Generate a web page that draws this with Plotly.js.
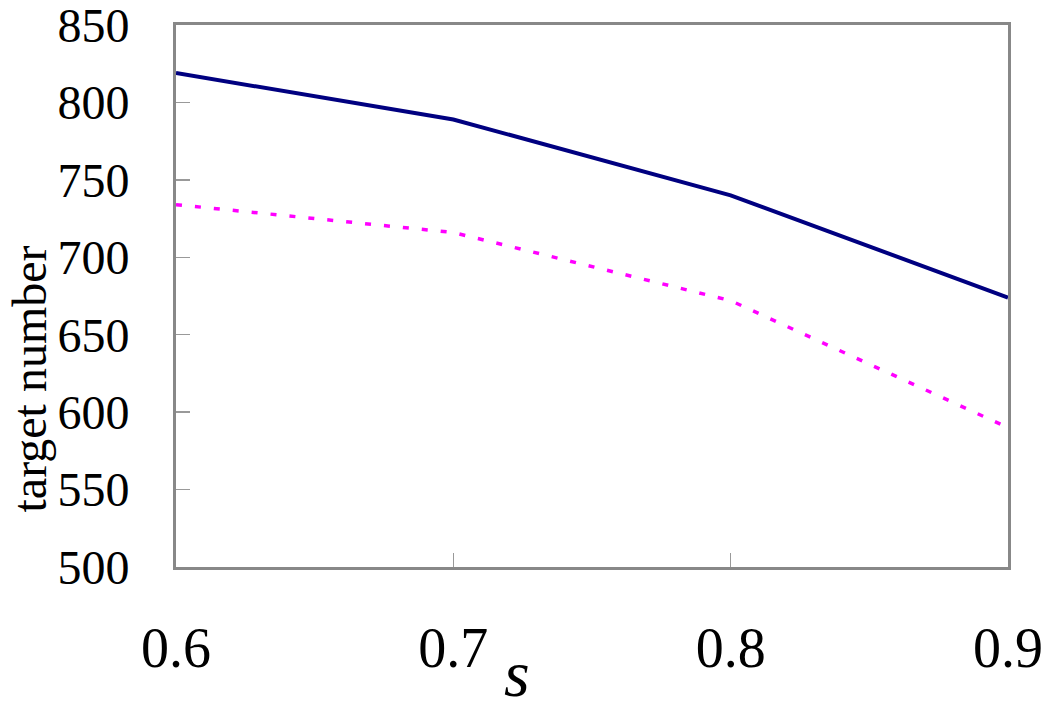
<!DOCTYPE html>
<html>
<head>
<meta charset="utf-8">
<script src="https://cdn.plot.ly/plotly-3.0.1.min.js"></script>
<style>
  html, body { margin: 0; padding: 0; background: #fff; }
  #chart { width: 1050px; height: 709px; }
</style>
</head>
<body>
<div id="chart"></div>
<script>
// ─────────────────────────────
// DATOS
// ─────────────────────────────
const sValores = [0.6, 0.7, 0.8, 0.9];
const serieSolida = [819, 789, 740, 674];
const serieDiscontinua = [734, 716, 672, 590];
const ticksX = ['0.6', '0.7', '0.8', '0.9'];
const ticksY = [500, 550, 600, 650, 700, 750, 800, 850];

const FUENTE = 'Liberation Serif, Times New Roman, serif';

// ─────────────────────────────
// TRAZAS
// ─────────────────────────────
const trazas = [
  {
    x: sValores,
    y: serieSolida,
    type: 'scatter',
    mode: 'lines',
    line: { color: '#000080', width: 4 },
    hoverinfo: 'skip'
  },
  {
    x: sValores,
    y: serieDiscontinua,
    type: 'scatter',
    mode: 'lines',
    line: { color: '#ff00ff', width: 3.5, dash: '6px,13px' },
    hoverinfo: 'skip'
  }
];

// ─────────────────────────────
// LAYOUT
// ─────────────────────────────
const layout = {
  width: 1050,
  height: 709,
  margin: { l: 176, r: 42, t: 25, b: 142 },
  paper_bgcolor: '#fff',
  plot_bgcolor: '#fff',
  showlegend: false,
  font: { family: FUENTE, color: '#000' },
  xaxis: {
    range: [0.6, 0.9],
    tickvals: sValores,
    ticktext: ticksX,
    ticks: 'inside',
    ticklen: 14,
    tickwidth: 1.5,
    tickcolor: '#999',
    ticklabelstandoff: 30,
    ticklabeloverflow: 'allow',
    tickfont: { family: FUENTE, size: 56, color: '#000' },
    showgrid: false,
    zeroline: false,
    showline: true,
    linecolor: '#888',
    linewidth: 3,
    mirror: true,
    title: { text: '' }
  },
  yaxis: {
    range: [500, 850],
    tickvals: ticksY,
    ticks: 'inside',
    ticklen: 14,
    tickwidth: 1.5,
    tickcolor: '#999',
    ticklabelstandoff: 34,
    ticklabeloverflow: 'allow',
    tickfont: { family: FUENTE, size: 48, color: '#000' },
    showgrid: false,
    zeroline: false,
    showline: true,
    linecolor: '#888',
    linewidth: 3,
    mirror: true,
    title: { text: '' }
  },
  annotations: [
    {
      text: 'target number',
      xref: 'paper', yref: 'paper',
      x: -0.176, y: 0.347,
      xanchor: 'center', yanchor: 'middle',
      textangle: -90,
      showarrow: false,
      font: { family: FUENTE, size: 48, color: '#000' }
    },
    {
      text: '<i>s</i>',
      xref: 'paper', yref: 'paper',
      x: 0.41, y: -0.268,
      xanchor: 'center', yanchor: 'bottom',
      showarrow: false,
      font: { family: FUENTE, size: 66, color: '#000' }
    }
  ]
};

Plotly.newPlot('chart', trazas, layout, { staticPlot: true, displayModeBar: false });
</script>
</body>
</html>
